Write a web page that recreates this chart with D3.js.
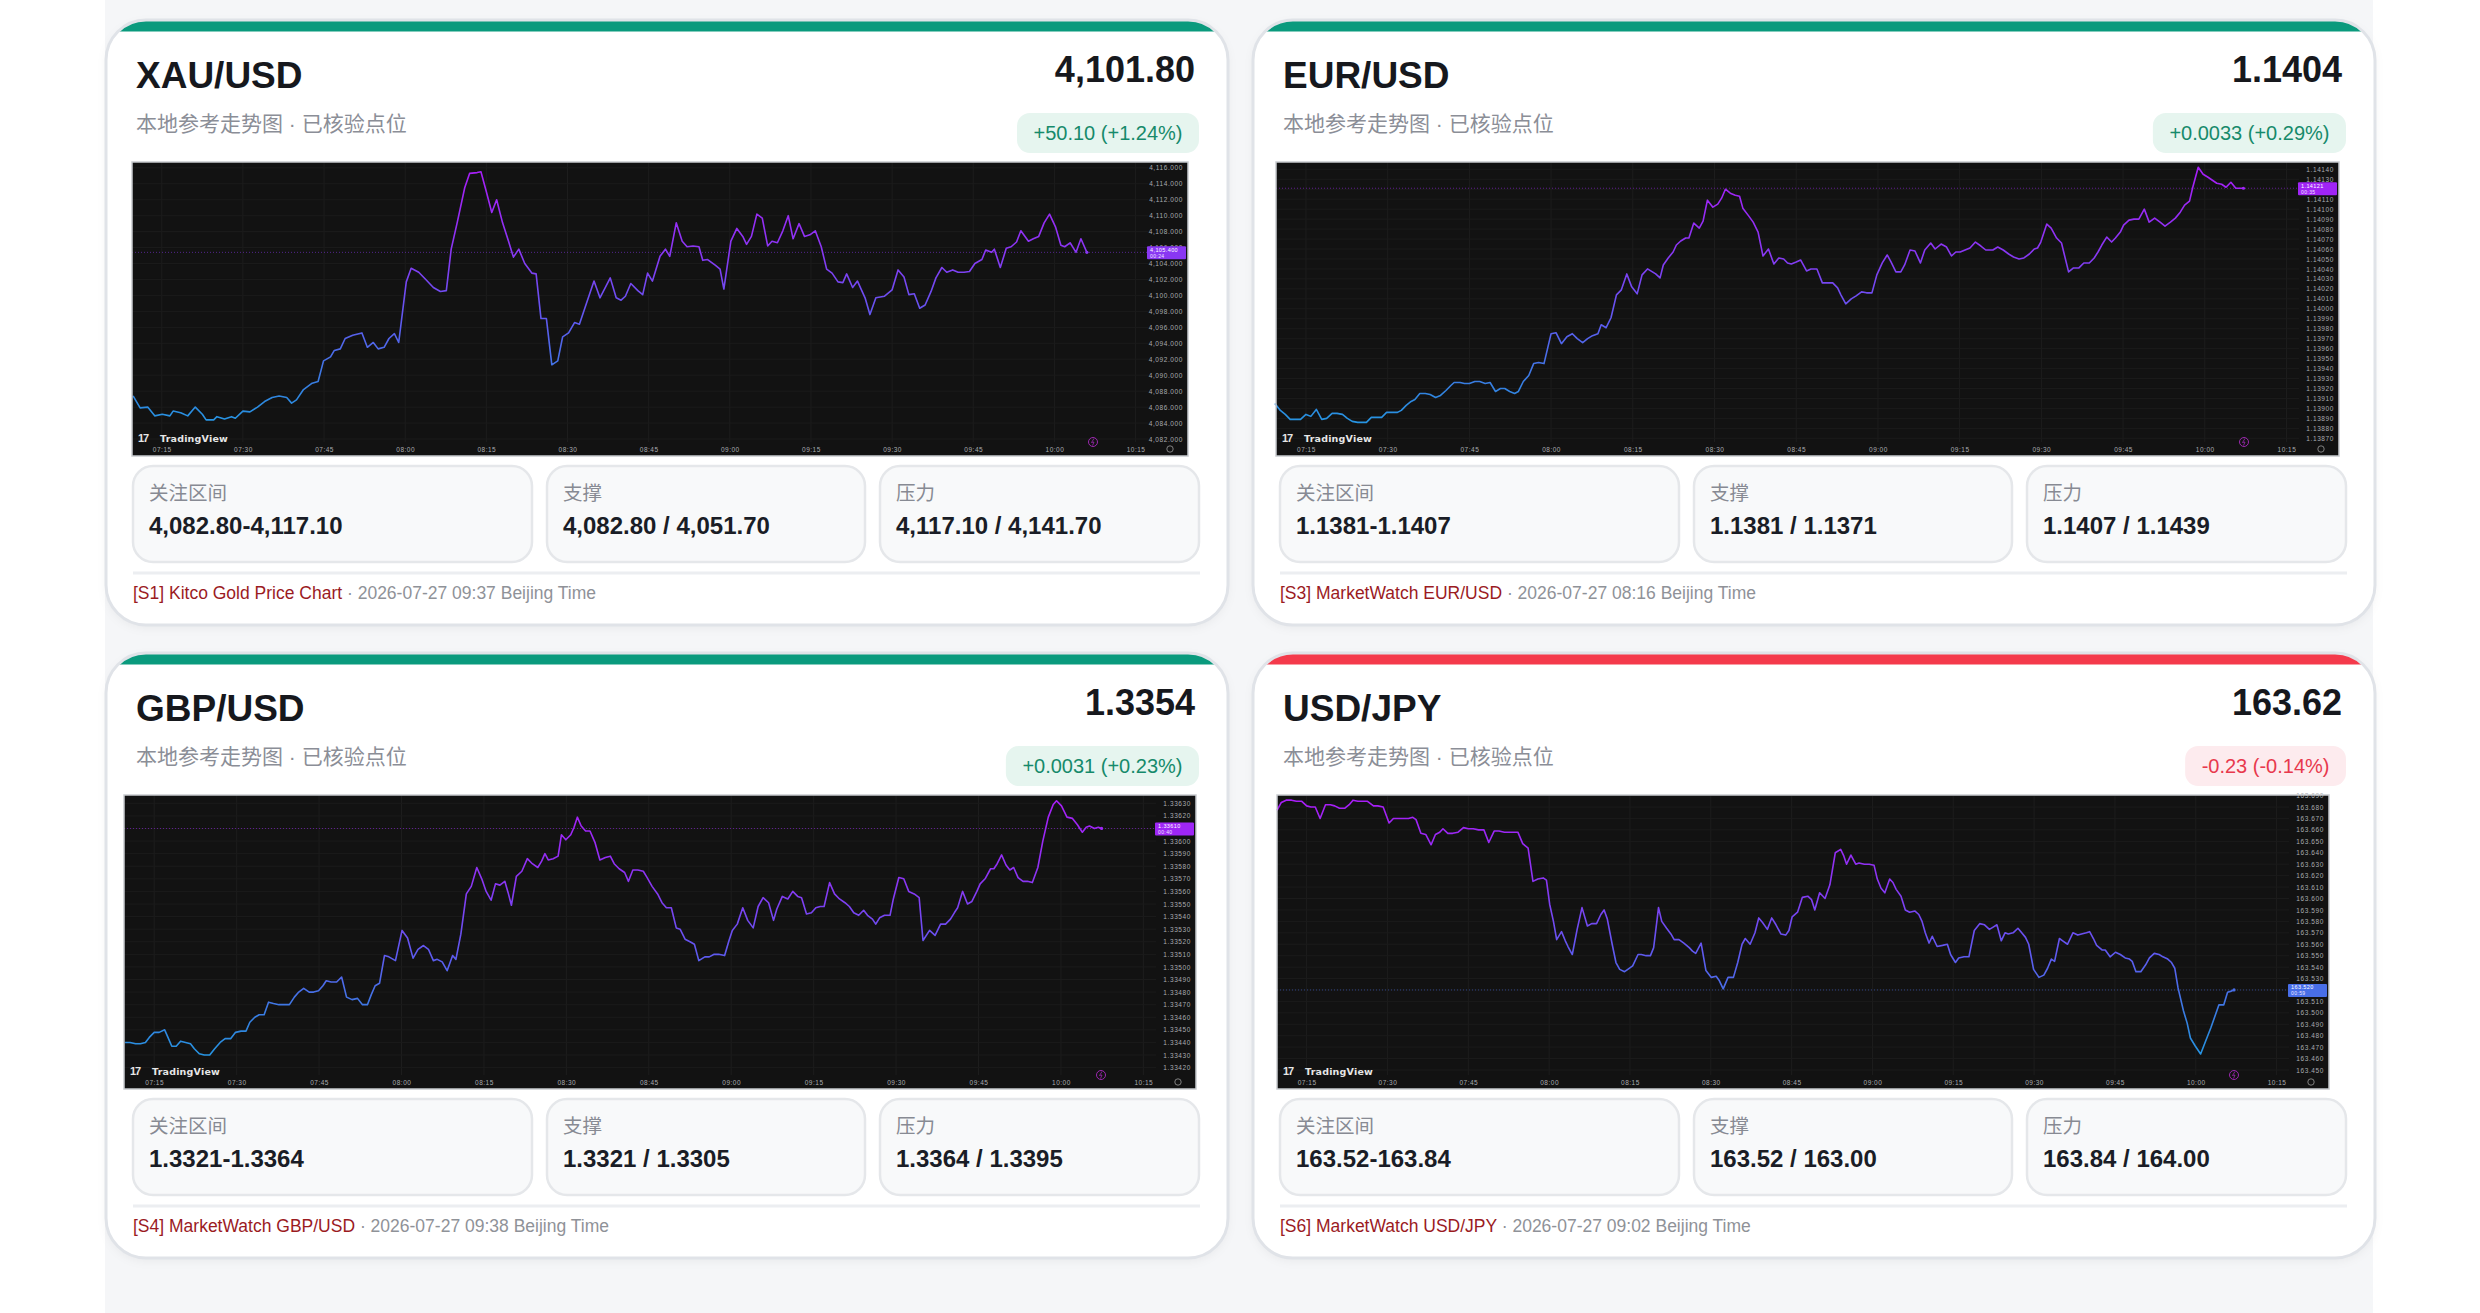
<!DOCTYPE html>
<html><head><meta charset="utf-8">
<script src="https://cdn.jsdelivr.net/npm/d3@7/dist/d3.min.js"></script>
<style>html,body{margin:0;padding:0;background:#fff}svg{display:block}</style>
</head><body>
<svg id="c" width="2480" height="1313"></svg>
<script>
// ---------------- DATA ----------------
const pairs = ["XAU/USD", "EUR/USD", "GBP/USD", "USD/JPY"];
const prices = ["4,101.80", "1.1404", "1.3354", "163.62"];
const changes = ["+50.10 (+1.24%)", "+0.0033 (+0.29%)", "+0.0031 (+0.23%)", "-0.23 (-0.14%)"];
const directions = ["up", "up", "up", "down"];
const subtitle = "本地参考走势图 · 已核验点位";
const statLabels = ["关注区间", "支撑", "压力"];
const statValues = [
  ["4,082.80-4,117.10", "4,082.80 / 4,051.70", "4,117.10 / 4,141.70"],
  ["1.1381-1.1407", "1.1381 / 1.1371", "1.1407 / 1.1439"],
  ["1.3321-1.3364", "1.3321 / 1.3305", "1.3364 / 1.3395"],
  ["163.52-163.84", "163.52 / 163.00", "163.84 / 164.00"]
];
const sources = ["[S1] Kitco Gold Price Chart", "[S3] MarketWatch EUR/USD", "[S4] MarketWatch GBP/USD", "[S6] MarketWatch USD/JPY"];
const stamps = ["2026-07-27 09:37 Beijing Time", "2026-07-27 08:16 Beijing Time", "2026-07-27 09:38 Beijing Time", "2026-07-27 09:02 Beijing Time"];
const timeTicks = ["07:15","07:30","07:45","08:00","08:15","08:30","08:45","09:00","09:15","09:30","09:45","10:00","10:15"];
const tagTimes = ["00:24", "00:35", "00:40", "00:59"];

// minutes after 07:00 and prices
const xauMin = [9.7,11.0,12.4,13.7,15.1,16.5,17.1,18.5,19.8,21.2,22.5,23.2,24.6,25.2,26.6,27.9,28.6,30.0,31.3,32.7,34.0,35.4,36.7,38.1,39.0,39.9,41.2,42.8,43.9,44.9,46.2,46.9,48.0,48.9,50.3,52.0,53.0,54.1,55.0,56.1,57.0,58.0,58.8,60.2,61.1,62.5,63.8,65.2,66.5,67.6,68.5,69.6,71.0,71.9,73.3,74.0,75.0,76.0,76.9,78.0,79.1,80.0,81.0,82.1,83.4,84.2,85.1,86.1,87.1,88.2,89.1,90.2,91.3,92.2,93.6,94.9,96.0,97.0,97.9,99.0,99.9,100.7,101.7,103.0,103.9,104.8,105.7,107.1,108.1,108.9,110.1,111.2,112.1,113.2,114.3,115.0,115.9,117.3,118.2,118.9,120.2,121.3,122.4,123.1,124.0,125.0,126.0,127.0,127.8,128.8,129.8,130.8,131.7,132.8,133.8,134.8,135.8,136.9,137.9,138.9,140.0,140.9,141.6,142.7,143.6,145.0,145.9,147.0,148.6,150.0,151.1,152.2,153.1,154.1,155.1,156.1,157.2,158.1,159.2,160.1,161.2,162.2,163.3,164.3,165.3,166.6,167.3,168.4,168.9,170.0,171.1,172.0,173.0,173.8,175.2,176.1,177.1,178.1,179.1,180.2,181.2,181.9,182.9,184.0,184.9,186.0];
const xauVal = [4087.4,4085.9,4086.0,4084.9,4085.1,4084.9,4085.5,4085.3,4084.9,4086.0,4085.1,4084.4,4084.4,4084.8,4084.5,4084.8,4084.6,4085.5,4085.4,4086.0,4086.7,4087.2,4087.4,4087.2,4086.5,4086.9,4088.2,4089.0,4089.2,4091.8,4092.3,4093.1,4093.3,4094.6,4095.0,4095.3,4093.5,4094.1,4093.3,4093.5,4094.6,4095.2,4094.1,4101.7,4103.4,4102.9,4102.0,4101.0,4100.5,4100.6,4105.8,4109.1,4113.5,4115.3,4115.4,4115.5,4113.0,4110.4,4112.0,4109.1,4106.8,4104.8,4105.8,4104.0,4102.8,4102.7,4097.1,4097.1,4091.3,4091.8,4094.8,4095.3,4096.6,4096.4,4099.2,4101.8,4099.7,4101.0,4102.2,4099.7,4099.4,4099.9,4101.5,4100.6,4100.1,4102.8,4101.8,4104.9,4105.8,4104.9,4109.1,4106.8,4106.1,4106.2,4106.1,4104.4,4104.5,4103.8,4103.3,4100.8,4106.8,4108.4,4107.4,4106.4,4107.4,4110.2,4109.7,4106.2,4106.8,4106.6,4108.1,4110.0,4107.1,4109.0,4107.4,4107.6,4108.1,4106.1,4103.3,4102.8,4101.7,4101.6,4102.7,4101.0,4101.8,4099.7,4097.6,4099.7,4099.9,4100.7,4103.2,4102.3,4100.1,4100.2,4098.4,4098.8,4100.5,4102.2,4103.5,4102.9,4103.2,4102.9,4102.9,4103.0,4104.0,4104.5,4105.7,4105.4,4105.8,4103.5,4105.9,4106.1,4106.7,4108.1,4106.8,4107.1,4107.4,4109.1,4110.2,4108.6,4106.3,4106.1,4106.6,4105.4,4107.1,4105.4];

const eurMin = [9.3,10.3,11.2,12.1,13.1,14.0,15.0,15.9,16.9,17.9,18.8,19.8,20.7,21.7,22.6,23.5,24.5,25.5,26.1,27.0,28.0,28.9,29.8,30.8,31.8,32.5,33.4,34.3,35.0,35.9,36.9,37.8,38.8,39.7,40.7,41.6,42.2,43.3,44.1,45.0,46.0,46.9,47.9,48.8,49.8,50.7,51.5,52.4,53.3,54.0,54.9,55.9,56.8,57.7,58.7,60.0,60.9,61.9,62.9,63.9,64.8,65.8,66.7,67.6,68.6,69.2,70.1,71.0,72.0,72.9,73.9,74.8,75.8,76.7,77.7,78.6,79.2,80.0,80.6,81.5,82.4,83.0,83.8,84.7,85.3,86.2,87.2,87.9,88.7,89.7,90.6,91.3,92.0,92.9,93.8,94.6,95.2,96.3,97.1,98.0,98.9,99.9,100.9,101.8,102.7,103.4,104.1,105.0,105.8,106.9,107.7,108.8,109.8,110.7,111.7,112.6,113.2,114.1,115.1,116.0,117.0,117.9,118.9,119.8,120.8,121.7,122.4,123.3,124.2,124.9,125.9,126.8,127.8,128.6,129.7,130.5,131.6,132.6,133.5,134.3,135.1,136.0,136.9,137.9,138.9,139.8,141.1,142.0,143.0,144.0,144.9,145.9,146.8,147.8,148.7,149.3,149.9,151.0,151.8,152.8,153.7,155.0,155.9,156.9,157.8,158.8,159.7,160.4,161.1,162.0,162.9,163.6,164.5,165.1,166.1,167.0,167.9,168.9,169.8,170.8,171.8,172.7,173.7,174.6,175.5,176.3,177.2,177.8,178.8,179.7,180.6,181.4,182.2,183.1,183.9,184.8,185.7,186.4,187.1];
const eurVal = [1.13905,1.13898,1.13894,1.13889,1.13889,1.13889,1.13894,1.13892,1.13899,1.13889,1.13890,1.13895,1.13895,1.13894,1.13890,1.13887,1.13886,1.13886,1.13886,1.13891,1.13891,1.13891,1.13896,1.13896,1.13896,1.13898,1.13903,1.13907,1.13909,1.13915,1.13915,1.13914,1.13911,1.13913,1.13918,1.13923,1.13926,1.13926,1.13925,1.13925,1.13927,1.13927,1.13925,1.13926,1.13917,1.13920,1.13920,1.13917,1.13915,1.13917,1.13927,1.13933,1.13945,1.13946,1.13945,1.13975,1.13976,1.13965,1.13972,1.13975,1.13970,1.13966,1.13970,1.13973,1.13975,1.13984,1.13981,1.13991,1.14014,1.14019,1.14035,1.14022,1.14015,1.14034,1.14040,1.14037,1.14035,1.14031,1.14044,1.14051,1.14057,1.14064,1.14068,1.14071,1.14071,1.14086,1.14081,1.14088,1.14109,1.14102,1.14105,1.14111,1.14120,1.14116,1.14114,1.14113,1.14101,1.14093,1.14087,1.14077,1.14053,1.14060,1.14045,1.14051,1.14050,1.14046,1.14045,1.14047,1.14049,1.14038,1.14040,1.14040,1.14026,1.14026,1.14026,1.14021,1.14014,1.14005,1.14010,1.14013,1.14017,1.14016,1.14016,1.14034,1.14046,1.14054,1.14047,1.14037,1.14037,1.14044,1.14059,1.14058,1.14046,1.14059,1.14066,1.14060,1.14065,1.14062,1.14053,1.14057,1.14057,1.14059,1.14061,1.14067,1.14063,1.14059,1.14059,1.14062,1.14059,1.14055,1.14052,1.14050,1.14051,1.14055,1.14060,1.14061,1.14067,1.14085,1.14081,1.14071,1.14066,1.14037,1.14041,1.14041,1.14046,1.14046,1.14051,1.14057,1.14064,1.14072,1.14067,1.14071,1.14077,1.14084,1.14089,1.14090,1.14090,1.14100,1.14087,1.14091,1.14087,1.14083,1.14087,1.14091,1.14097,1.14104,1.14108,1.14122,1.14142,1.14135,1.14132,1.14129,1.14126,1.14125,1.14122,1.14127,1.14121,1.14121,1.14121];

const gbpMin = [9.7,10.6,11.6,12.5,13.4,14.1,15.0,15.9,16.9,17.5,18.2,19.0,19.8,20.7,21.6,22.3,23.2,24.1,25.1,26.0,27.0,27.9,28.9,29.8,30.8,31.7,32.4,33.3,34.1,35.0,35.8,36.7,37.7,38.6,39.6,40.5,41.3,42.2,43.2,44.0,44.9,45.7,46.3,47.2,48.2,49.1,50.0,51.0,52.0,52.9,53.8,54.5,55.2,56.0,56.9,57.7,58.9,60.1,61.1,62.1,63.0,64.0,64.9,65.8,66.5,67.4,68.3,69.3,69.9,70.8,71.8,72.7,73.7,74.6,75.4,76.3,77.1,77.9,78.8,79.4,80.0,80.9,81.9,82.9,83.8,84.8,85.5,86.1,86.7,87.6,88.5,89.1,89.9,90.8,91.4,92.0,92.7,93.5,94.3,95.2,96.1,97.1,98.0,98.7,99.6,100.6,101.3,102.1,103.0,104.0,104.7,105.6,106.6,107.4,108.2,109.1,110.0,110.7,111.6,112.5,113.3,114.1,115.2,116.0,116.9,117.7,118.8,119.6,120.2,121.1,122.1,123.0,124.0,124.9,125.8,126.8,127.7,128.3,129.3,130.3,131.2,132.1,132.8,133.7,134.6,135.4,136.2,136.9,137.9,138.8,139.7,140.7,141.5,142.3,143.2,144.1,144.8,145.7,146.3,147.0,147.9,148.9,149.5,150.5,151.4,152.3,153.3,154.2,154.9,156.1,157.1,158.1,159.0,159.9,160.6,161.2,162.1,163.0,163.8,164.7,165.3,166.2,167.2,167.8,168.4,169.2,170.0,170.7,171.4,172.2,173.1,173.9,174.8,175.8,176.7,177.7,178.6,179.2,180.1,181.1,182.1,183.0,183.9,184.6,185.2,186.1,186.8,187.4];
const gbpVal = [1.33440,1.33440,1.33439,1.33439,1.33440,1.33444,1.33448,1.33448,1.33450,1.33444,1.33437,1.33437,1.33441,1.33440,1.33439,1.33435,1.33431,1.33430,1.33430,1.33435,1.33440,1.33443,1.33443,1.33448,1.33449,1.33449,1.33456,1.33460,1.33462,1.33462,1.33472,1.33471,1.33470,1.33470,1.33470,1.33476,1.33480,1.33483,1.33480,1.33480,1.33481,1.33485,1.33489,1.33488,1.33488,1.33492,1.33476,1.33474,1.33475,1.33470,1.33470,1.33478,1.33485,1.33487,1.33509,1.33508,1.33505,1.33529,1.33523,1.33507,1.33514,1.33517,1.33514,1.33505,1.33506,1.33504,1.33497,1.33509,1.33506,1.33526,1.33558,1.33564,1.33579,1.33570,1.33560,1.33553,1.33566,1.33565,1.33568,1.33559,1.33549,1.33572,1.33576,1.33586,1.33582,1.33579,1.33584,1.33590,1.33585,1.33586,1.33588,1.33605,1.33601,1.33605,1.33611,1.33619,1.33612,1.33608,1.33608,1.33599,1.33585,1.33587,1.33588,1.33582,1.33578,1.33575,1.33568,1.33577,1.33577,1.33576,1.33571,1.33564,1.33558,1.33551,1.33547,1.33547,1.33531,1.33530,1.33522,1.33520,1.33518,1.33505,1.33508,1.33508,1.33510,1.33510,1.33509,1.33521,1.33529,1.33534,1.33547,1.33537,1.33531,1.33548,1.33555,1.33551,1.33537,1.33546,1.33556,1.33554,1.33560,1.33556,1.33555,1.33542,1.33543,1.33547,1.33548,1.33548,1.33567,1.33558,1.33554,1.33551,1.33548,1.33543,1.33541,1.33545,1.33541,1.33538,1.33534,1.33539,1.33541,1.33541,1.33554,1.33571,1.33570,1.33560,1.33558,1.33555,1.33521,1.33529,1.33525,1.33534,1.33534,1.33538,1.33543,1.33547,1.33560,1.33550,1.33552,1.33560,1.33566,1.33570,1.33578,1.33578,1.33582,1.33589,1.33581,1.33577,1.33579,1.33571,1.33568,1.33568,1.33567,1.33579,1.33600,1.33619,1.33629,1.33632,1.33628,1.33619,1.33618,1.33613,1.33607,1.33611,1.33612,1.33610,1.33611,1.33610];

const jpyMin = [9.5,10.3,11.2,12.2,13.1,14.1,15.0,15.8,16.6,17.5,18.5,19.4,20.2,21.1,22.1,22.9,23.6,24.5,25.5,26.3,27.4,28.2,29.2,30.3,31.1,32.0,33.0,33.9,34.7,35.3,36.2,37.1,38.1,38.9,39.7,40.3,41.2,42.1,43.1,44.1,45.0,45.9,46.9,47.9,48.8,49.8,50.7,51.7,52.6,53.6,54.2,55.1,56.1,57.0,57.9,58.9,59.5,60.1,60.8,61.4,62.3,63.0,63.5,64.3,65.2,66.1,67.1,67.9,68.8,69.6,70.2,70.8,71.7,72.4,73.1,74.0,74.6,75.5,76.5,77.1,78.0,78.8,79.4,80.3,80.9,81.8,82.6,83.2,84.1,85.0,86.0,86.6,87.2,88.2,89.1,90.1,91.0,91.6,92.3,93.2,94.2,95.0,95.8,96.4,97.3,98.2,98.9,99.6,100.5,101.3,102.1,103.0,103.9,104.5,105.1,106.1,107.0,108.0,108.7,109.3,110.2,111.2,112.1,113.1,114.1,114.7,115.2,116.0,116.9,117.5,118.5,119.4,120.3,120.9,121.6,122.3,123.2,123.8,124.4,125.3,126.1,126.9,127.9,128.6,129.2,129.8,130.5,131.1,132.0,133.0,133.9,134.5,135.4,136.0,137.0,137.9,138.9,139.9,140.8,141.7,142.4,143.1,143.9,144.6,145.2,146.1,147.0,147.7,148.4,149.0,149.9,150.9,151.8,152.5,153.2,153.8,154.7,155.3,156.2,157.2,158.1,158.8,159.7,160.3,161.0,161.6,162.6,163.2,164.1,165.1,166.0,166.9,167.7,168.2,168.9,169.8,170.7,171.4,172.3,173.2,173.9,174.8,175.5,176.1,176.7,177.7,178.4,179.0,179.9,180.9,181.8,182.8,183.7,184.3,185.2,185.9,186.6,187.1];
const jpyVal = [163.677,163.684,163.686,163.686,163.685,163.685,163.681,163.680,163.680,163.670,163.682,163.682,163.681,163.679,163.679,163.682,163.686,163.685,163.685,163.685,163.681,163.681,163.680,163.666,163.670,163.670,163.670,163.670,163.671,163.669,163.657,163.656,163.647,163.656,163.658,163.661,163.657,163.657,163.658,163.662,163.661,163.661,163.660,163.660,163.649,163.659,163.659,163.658,163.658,163.658,163.658,163.648,163.644,163.615,163.617,163.618,163.616,163.595,163.580,163.564,163.571,163.563,163.558,163.551,163.573,163.592,163.576,163.578,163.578,163.586,163.590,163.582,163.560,163.544,163.538,163.536,163.538,163.541,163.551,163.551,163.550,163.550,163.557,163.592,163.580,163.574,163.569,163.564,163.564,163.561,163.557,163.554,163.552,163.561,163.537,163.531,163.532,163.528,163.521,163.531,163.531,163.544,163.560,163.565,163.560,163.570,163.583,163.579,163.573,163.583,163.577,163.569,163.568,163.572,163.584,163.588,163.601,163.602,163.599,163.590,163.605,163.600,163.612,163.640,163.643,163.637,163.630,163.638,163.630,163.631,163.630,163.630,163.629,163.617,163.609,163.605,163.617,163.614,163.608,163.602,163.590,163.588,163.589,163.586,163.580,163.570,163.561,163.567,163.558,163.559,163.560,163.551,163.544,163.548,163.549,163.549,163.572,163.578,163.577,163.573,163.575,163.577,163.563,163.570,163.569,163.570,163.574,163.570,163.566,163.560,163.538,163.531,163.533,163.539,163.547,163.545,163.565,163.563,163.560,163.570,163.568,163.569,163.570,163.571,163.565,163.559,163.555,163.555,163.549,163.553,163.551,163.548,163.547,163.545,163.536,163.536,163.542,163.548,163.552,163.551,163.549,163.547,163.544,163.539,163.522,163.502,163.491,163.478,163.471,163.464,163.475,163.487,163.499,163.507,163.507,163.518,163.519,163.520];

const xauTicks = [4082,4084,4086,4088,4090,4092,4094,4096,4098,4100,4102,4104,4106,4108,4110,4112,4114,4116];
const eurTicks = [1.1387,1.1388,1.1389,1.1390,1.1391,1.1392,1.1393,1.1394,1.1395,1.1396,1.1397,1.1398,1.1399,1.1400,1.1401,1.1402,1.1403,1.1404,1.1405,1.1406,1.1407,1.1408,1.1409,1.1410,1.1411,1.1412,1.1413,1.1414];
const gbpTicks = [1.3342,1.3343,1.3344,1.3345,1.3346,1.3347,1.3348,1.3349,1.3350,1.3351,1.3352,1.3353,1.3354,1.3355,1.3356,1.3357,1.3358,1.3359,1.3360,1.3361,1.3362,1.3363];
const jpyTicks = [163.45,163.46,163.47,163.48,163.49,163.50,163.51,163.52,163.53,163.54,163.55,163.56,163.57,163.58,163.59,163.60,163.61,163.62,163.63,163.64,163.65,163.66,163.67,163.68,163.69];

// ---------------- LAYOUT / STYLE ----------------
const seriesMin = [xauMin, eurMin, gbpMin, jpyMin];
const seriesVal = [xauVal, eurVal, gbpVal, jpyVal];
const seriesTicks = [xauTicks, eurTicks, gbpTicks, jpyTicks];
const tickFormats = [d3.format(",.3f"), d3.format(".5f"), d3.format(".5f"), d3.format(".3f")];
const layout = [
  {x:106, y:20, cx:26, cw:1056, yb:277, yt:5.8},
  {x:1253, y:20, cx:23, cw:1063, yb:276.3, yt:7.3},
  {x:106, y:653, cx:18, cw:1072, yb:272.6, yt:8.3},
  {x:1253, y:653, cx:24, cw:1052, yb:275, yt:0.6}
];
const CW = 1122, CH = 605, CR = 40;
const FONT = "'Liberation Sans', Arial, 'Noto Sans CJK SC', sans-serif";
const gradStops = [[0,"#aa1cf7"],[0.3,"#8a36f3"],[0.55,"#5d5bef"],[0.8,"#2f86df"],[1,"#1ba8e8"]];
const gradColor = d3.scaleLinear().domain(gradStops.map(d=>d[0])).range(gradStops.map(d=>d[1])).clamp(true);
const toMin = s => { const [h,m] = s.split(":").map(Number); return h*60+m-420; };

const svg = d3.select("#c");
const defs = svg.append("defs");
const sh = defs.append("filter").attr("id","sh").attr("x","-5%").attr("y","-5%").attr("width","110%").attr("height","115%");
sh.append("feDropShadow").attr("dx",0).attr("dy",3).attr("stdDeviation",5).attr("flood-color","#000").attr("flood-opacity",0.05);

svg.append("rect").attr("x",105).attr("y",0).attr("width",2268).attr("height",1313).attr("fill","#f5f6f8");

layout.forEach((L, i) => {
  const g = svg.append("g").attr("transform", `translate(${L.x},${L.y})`);
  const up = directions[i] === "up";
  defs.append("clipPath").attr("id","cc"+i).append("rect").attr("width",CW).attr("height",CH).attr("rx",CR);
  g.append("rect").attr("width",CW).attr("height",CH).attr("rx",CR).attr("fill","#fff").attr("filter","url(#sh)");
  g.append("rect").attr("clip-path",`url(#cc${i})`).attr("width",CW).attr("height",11.5).attr("fill", up ? "#0a9a7d" : "#f43a4b");
  g.append("rect").attr("width",CW).attr("height",CH).attr("rx",CR).attr("fill","none").attr("stroke","#e0e3e8").attr("stroke-width",3);

  // header
  g.append("text").attr("x",30).attr("y",68).attr("font-family",FONT).attr("font-weight","bold").attr("font-size",37).attr("fill","#16181d").text(pairs[i]);
  g.append("text").attr("x",1089).attr("y",62).attr("text-anchor","end").attr("font-family",FONT).attr("font-weight","bold").attr("font-size",36).attr("fill","#16181d").text(prices[i]);
  g.append("text").attr("x",30).attr("y",111).attr("font-family",FONT).attr("font-size",21).attr("fill","#8b8e97").text(subtitle);
  const bt = g.append("text").attr("y",120).attr("text-anchor","middle").attr("font-family",FONT).attr("font-size",20).attr("fill", up ? "#168a6b" : "#e8394d").text(changes[i]);
  const tw = bt.node().getComputedTextLength();
  const bw = tw + 33, bR = 1093;
  g.insert("rect", () => bt.node()).attr("x",bR-bw).attr("y",93).attr("width",bw).attr("height",40).attr("rx",13).attr("fill", up ? "#e6f5ef" : "#fdebee");
  bt.attr("x", bR - bw/2);

  // chart
  const x0 = L.cx, x1 = L.cx + L.cw, y0 = 142, y1 = 436;
  const cg = g.append("g");
  cg.append("rect").attr("x",x0).attr("y",y0).attr("width",L.cw).attr("height",y1-y0).attr("fill","#121212");
  const xs = d3.scaleLinear().domain([9.5,197.3]).range([x0, x1-40]);
  const ticks = seriesTicks[i];
  const ys = d3.scaleLinear().domain([ticks[0], ticks[ticks.length-1]]).range([y0+L.yb, y0+L.yt]);
  // grid
  cg.selectAll(".vg").data(timeTicks).join("line").attr("x1",d=>xs(toMin(d))).attr("x2",d=>xs(toMin(d))).attr("y1",y0).attr("y2",y1-14).attr("stroke","#1d1d1d").attr("stroke-width",1);
  cg.selectAll(".hg").data(ticks).join("line").attr("x1",x0).attr("x2",x1-40).attr("y1",d=>ys(d)).attr("y2",d=>ys(d)).attr("stroke","#1b1b1b").attr("stroke-width",1);
  // axes
  const yAxis = d3.axisRight(ys).tickValues(ticks).tickFormat(tickFormats[i]).tickSize(0).tickPadding(0);
  const ya = cg.append("g").attr("transform",`translate(${x1-5},0)`).call(yAxis);
  ya.select(".domain").remove();
  ya.selectAll("text").attr("text-anchor","end").attr("font-family",FONT).attr("font-size",6.5).attr("letter-spacing",0.6).attr("fill","#a9abb0");
  const xAxis = d3.axisBottom(xs).tickValues(timeTicks.map(toMin)).tickFormat((d,k)=>timeTicks[k]).tickSize(0).tickPadding(0);
  const xa = cg.append("g").attr("transform",`translate(0,${y1-9})`).call(xAxis);
  xa.select(".domain").remove();
  xa.selectAll("text").attr("font-family",FONT).attr("font-size",6.5).attr("letter-spacing",0.5).attr("fill","#a9abb0");

  // line
  const gid = "lg"+i;
  const lg = defs.append("linearGradient").attr("id",gid).attr("gradientUnits","userSpaceOnUse").attr("x1",0).attr("x2",0).attr("y1",y0).attr("y2",y1);
  gradStops.forEach(s => lg.append("stop").attr("offset",s[0]).attr("stop-color",s[1]));
  const mins = seriesMin[i], vals = seriesVal[i];
  const pts = mins.map((m,k)=>[m, vals[k]]);
  const line = d3.line().x(d=>xs(d[0])).y(d=>ys(d[1]));
  const lastV = vals[vals.length-1], lastM = mins[mins.length-1];
  const tagC = gradColor((ys(lastV)-y0)/(y1-y0));
  cg.append("line").attr("x1",x0).attr("x2",x1-40).attr("y1",ys(lastV)).attr("y2",ys(lastV)).attr("stroke",tagC).attr("stroke-opacity",0.55).attr("stroke-dasharray","1,2").attr("stroke-width",1);
  cg.append("path").datum(pts).attr("d",line).attr("fill","none").attr("stroke",`url(#${gid})`).attr("stroke-width",1.6).attr("stroke-linejoin","round");
  cg.append("circle").attr("cx",xs(lastM)).attr("cy",ys(lastV)).attr("r",1.6).attr("fill",tagC);
  // price tag
  const tg = cg.append("g").attr("transform",`translate(${x1-41},${ys(lastV)-6})`);
  tg.append("rect").attr("width",39).attr("height",13).attr("rx",1).attr("fill",tagC);
  tg.append("text").attr("x",3).attr("y",5.5).attr("font-family",FONT).attr("font-size",5.5).attr("letter-spacing",0.4).attr("fill","#fff").text(tickFormats[i](lastV));
  tg.append("text").attr("x",3).attr("y",11.5).attr("font-family",FONT).attr("font-size",5).attr("letter-spacing",0.4).attr("fill","#f0e8ff").text(tagTimes[i]);
  // logo
  cg.append("text").attr("x",x0+6).attr("y",y1-14).attr("font-family",FONT).attr("font-weight","bold").attr("font-size",11).attr("letter-spacing",-1).attr("fill","#e6e6e6").text("17");
  cg.append("text").attr("x",x0+28).attr("y",y1-14).attr("font-family","'DejaVu Sans', sans-serif").attr("font-weight","bold").attr("font-size",9.5).attr("letter-spacing",0.2).attr("fill","#e6e6e6").text("TradingView");
  // icons
  cg.append("circle").attr("cx",x1-95).attr("cy",y1-14).attr("r",4.5).attr("fill","none").attr("stroke","#9c27b0").attr("stroke-width",1);
  cg.append("path").attr("d",`M${x1-94},${y1-17.5}L${x1-96.5},${y1-13.5}L${x1-94},${y1-14}L${x1-95.5},${y1-10.5}`).attr("fill","none").attr("stroke","#9c27b0").attr("stroke-width",0.8);
  cg.append("circle").attr("cx",x1-18).attr("cy",y1-7).attr("r",3.2).attr("fill","none").attr("stroke","#9a9a9a").attr("stroke-width",0.8);
  cg.append("rect").attr("x",x0).attr("y",y0).attr("width",L.cw).attr("height",y1-y0).attr("fill","none").attr("stroke","#c9ccd0").attr("stroke-width",1.5);

  // stat boxes
  const boxes = [[27,426],[441,759],[774,1093]];
  boxes.forEach((b, k) => {
    g.append("rect").attr("x",b[0]).attr("y",446).attr("width",b[1]-b[0]).attr("height",96).attr("rx",20).attr("fill","#f8f9fa").attr("stroke","#e5e7ea").attr("stroke-width",2.5);
    g.append("text").attr("x",b[0]+16).attr("y",480).attr("font-family",FONT).attr("font-size",19.5).attr("fill","#878a93").text(statLabels[k]);
    g.append("text").attr("x",b[0]+16).attr("y",514).attr("font-family",FONT).attr("font-weight","bold").attr("font-size",24).attr("fill","#1a1d26").text(statValues[i][k]);
  });
  g.append("line").attr("x1",27).attr("x2",1094).attr("y1",553).attr("y2",553).attr("stroke","#eceef1").attr("stroke-width",3);
  const ft = g.append("text").attr("x",27).attr("y",579).attr("font-family",FONT).attr("font-size",17.5);
  ft.append("tspan").attr("fill","#9b1b1f").text(sources[i]);
  ft.append("tspan").attr("fill","#8f9298").text(" · " + stamps[i]);
});
</script>
</body></html>
